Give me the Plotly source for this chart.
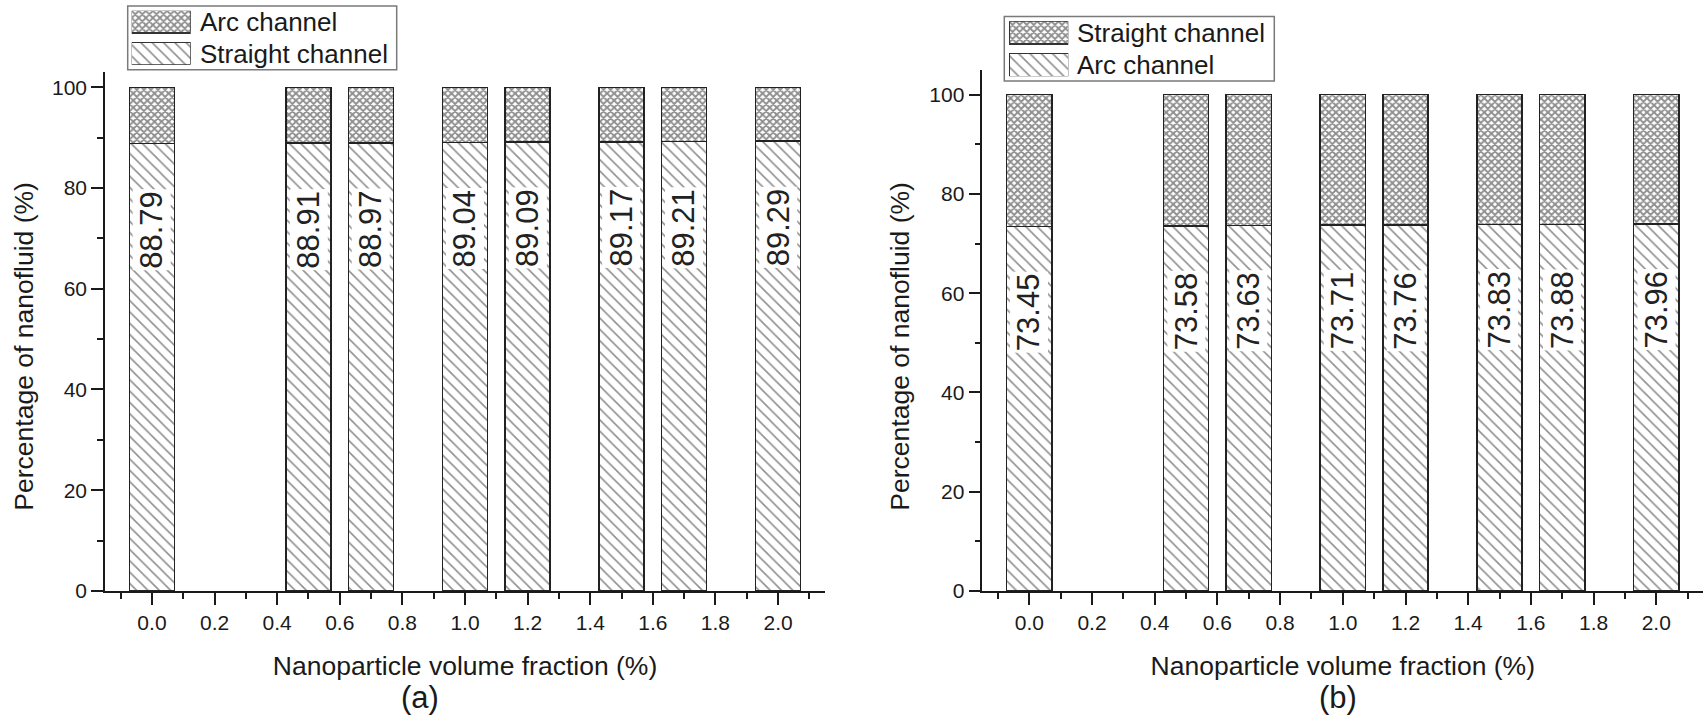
import plotly.graph_objects as go

# ---- data ----
fractions = [0.0, 0.5, 0.7, 1.0, 1.2, 1.5, 1.7, 2.0]
straight_share_a = [88.79, 88.91, 88.97, 89.04, 89.09, 89.17, 89.21, 89.29]
arc_share_b = [73.45, 73.58, 73.63, 73.71, 73.76, 73.83, 73.88, 73.96]

x_tick_vals = [0.0, 0.2, 0.4, 0.6, 0.8, 1.0, 1.2, 1.4, 1.6, 1.8, 2.0]
x_tick_text = ["0.0", "0.2", "0.4", "0.6", "0.8", "1.0", "1.2", "1.4", "1.6", "1.8", "2.0"]
x_minor_vals = [-0.1, 0.1, 0.3, 0.5, 0.7, 0.9, 1.1, 1.3, 1.5, 1.7, 1.9, 2.1]
y_tick_vals = [0, 20, 40, 60, 80, 100]
y_tick_text = ["0", "20", "40", "60", "80", "100"]
y_minor_vals = [10, 30, 50, 70, 90]

W, H = 1708, 726
FONT = "Liberation Sans, Arial, sans-serif"
INK = "#1a1a1a"


def px(x):
    return x / W


def py(y):
    return 1 - y / H


DIAG = dict(shape="\\", size=8, solidity=0.2, fgcolor="#222222",
            bgcolor="white", fillmode="overlay")
CROSS = dict(shape="x", size=5, solidity=0.62, fgcolor="#1e1e1e",
             bgcolor="white", fillmode="overlay")
OUTLINE = dict(color="#222222", width=1.5)
BAR_W = 0.144

fig = go.Figure()

panels = [
    # (bottom values, bottom name, top name, x axis, y axis)
    (straight_share_a, "Straight channel", "Arc channel", "x", "y"),
    (arc_share_b, "Arc channel", "Straight channel", "x2", "y2"),
]

for bottom, bottom_name, top_name, xa, ya in panels:
    top = [round(100 - v, 2) for v in bottom]
    fig.add_trace(go.Bar(
        x=fractions, y=bottom, name=bottom_name, width=BAR_W,
        marker=dict(color="white", pattern=DIAG, line=OUTLINE),
        xaxis=xa, yaxis=ya, showlegend=False,
    ))
    fig.add_trace(go.Bar(
        x=fractions, y=top, base=bottom, name=top_name, width=BAR_W,
        marker=dict(color="white", pattern=CROSS, line=OUTLINE),
        xaxis=xa, yaxis=ya, showlegend=False,
    ))

# value labels on the lower segments, a fixed distance below each segment top
annotations = []
for bottom, xa, ya, drop, shift in [(straight_share_a, "x", "y", 14.7, -12),
                                    (arc_share_b, "x2", "y2", 16.2, -5)]:
    for xv, v in zip(fractions, bottom):
        annotations.append(dict(
            x=xv, y=v - drop, xref=xa, yref=ya, text=f"{v:.2f}", showarrow=False,
            textangle=-90, xanchor="center", yanchor="middle", yshift=shift,
            bgcolor="white", borderpad=1,
            font=dict(family=FONT, size=31, color="#222222"),
        ))

# legend swatches drawn as patterned bars on small helper axes
legend_specs = [
    # (axis suffix, swatch x0, x1, y top, y bottom, [top entry, bottom entry])
    ("3", 131.7, 190.7, 11.0, 65.7, [("Arc channel", CROSS), ("Straight channel", DIAG)]),
    ("4", 1009.0, 1068.3, 21.7, 77.3, [("Straight channel", CROSS), ("Arc channel", DIAG)]),
]
legend_boxes = [(127.7, 6.0, 396.7, 70.7), (1004.3, 16.7, 1274.3, 82.3)]

for (suffix, x0, x1, yt, yb, entries), box in zip(legend_specs, legend_boxes):
    for row, (label, pat) in zip([1, 0], entries):
        fig.add_trace(go.Bar(
            x=[1], y=[row], orientation="h", width=0.7, name=label,
            marker=dict(color="white", pattern=pat, line=dict(color="#333333", width=1.2)),
            xaxis="x" + suffix, yaxis="y" + suffix, showlegend=False,
            hoverinfo="skip",
        ))
        yc = yt + (yb - yt) * (0.35 / 1.7 if row == 1 else 1.35 / 1.7)
        annotations.append(dict(
            x=px(x1 + 7), y=py(yc), xref="paper", yref="paper", text=label,
            showarrow=False, xanchor="left", yanchor="middle",
            font=dict(family=FONT, size=26, color=INK),
        ))
    fig.update_layout(**{
        "xaxis" + suffix: dict(domain=[px(x0), px(x1)], range=[0, 1], visible=False,
                               fixedrange=True),
        "yaxis" + suffix: dict(domain=[py(yb), py(yt)], range=[-0.35, 1.35], visible=False,
                               fixedrange=True),
    })

shapes = []
for bx0, by0, bx1, by1 in legend_boxes:
    shapes.append(dict(type="rect", xref="paper", yref="paper",
                       x0=px(bx0), x1=px(bx1), y0=py(by1), y1=py(by0),
                       line=dict(color="#7a7a7a", width=1.5), fillcolor="rgba(0,0,0,0)"))

# axis titles and panel captions
for xc, yc in [(24, 352), (900, 352)]:
    annotations.append(dict(
        x=px(xc), y=py(yc), xref="paper", yref="paper",
        text="Percentage of nanofluid (%)", textangle=-90, showarrow=False,
        xanchor="center", yanchor="middle",
        font=dict(family=FONT, size=26.5, color=INK),
    ))
for xc, text in [(420, "(a)"), (1338, "(b)")]:
    annotations.append(dict(
        x=px(xc), y=py(708), xref="paper", yref="paper", text=text,
        showarrow=False, xanchor="center", yanchor="middle",
        font=dict(family=FONT, size=31, color=INK),
    ))

common_x = dict(
    range=[-0.15, 2.15], tickmode="array", tickvals=x_tick_vals, ticktext=x_tick_text,
    ticks="outside", ticklen=12, tickwidth=1.5, tickcolor=INK,
    minor=dict(tickmode="array", tickvals=x_minor_vals, ticks="outside",
               ticklen=6, tickwidth=1.5, tickcolor=INK, showgrid=False),
    showline=True, linewidth=1.5, linecolor=INK, showgrid=False, zeroline=False,
    tickfont=dict(family=FONT, size=21, color=INK),
    title=dict(text="Nanoparticle volume fraction (%)", standoff=24,
               font=dict(family=FONT, size=26.5, color=INK)),
    fixedrange=True,
)
common_y = dict(
    tickmode="array", tickvals=y_tick_vals, ticktext=y_tick_text,
    ticks="outside", ticklen=12, tickwidth=1.5, tickcolor=INK,
    minor=dict(tickmode="array", tickvals=y_minor_vals, ticks="outside",
               ticklen=6, tickwidth=1.5, tickcolor=INK, showgrid=False),
    showline=True, linewidth=1.5, linecolor=INK, showgrid=False, zeroline=False,
    tickfont=dict(family=FONT, size=21, color=INK),
    fixedrange=True,
)

fig.update_layout(
    width=W, height=H, margin=dict(l=0, r=0, t=0, b=0),
    paper_bgcolor="white", plot_bgcolor="rgba(0,0,0,0)",
    barmode="stack", showlegend=False,
    font=dict(family=FONT, color=INK),
    xaxis=dict(domain=[px(105), px(825)], anchor="y", **common_x),
    yaxis=dict(domain=[py(600), py(73.3)], range=[0, 103], anchor="x", **common_y),
    xaxis2=dict(domain=[px(982.3), px(1703.3)], anchor="y2", **common_x),
    yaxis2=dict(domain=[py(600), py(71)], range=[0, 105], anchor="x2", **common_y),
    annotations=annotations,
    shapes=shapes,
)

fig.write_html("out.html")
